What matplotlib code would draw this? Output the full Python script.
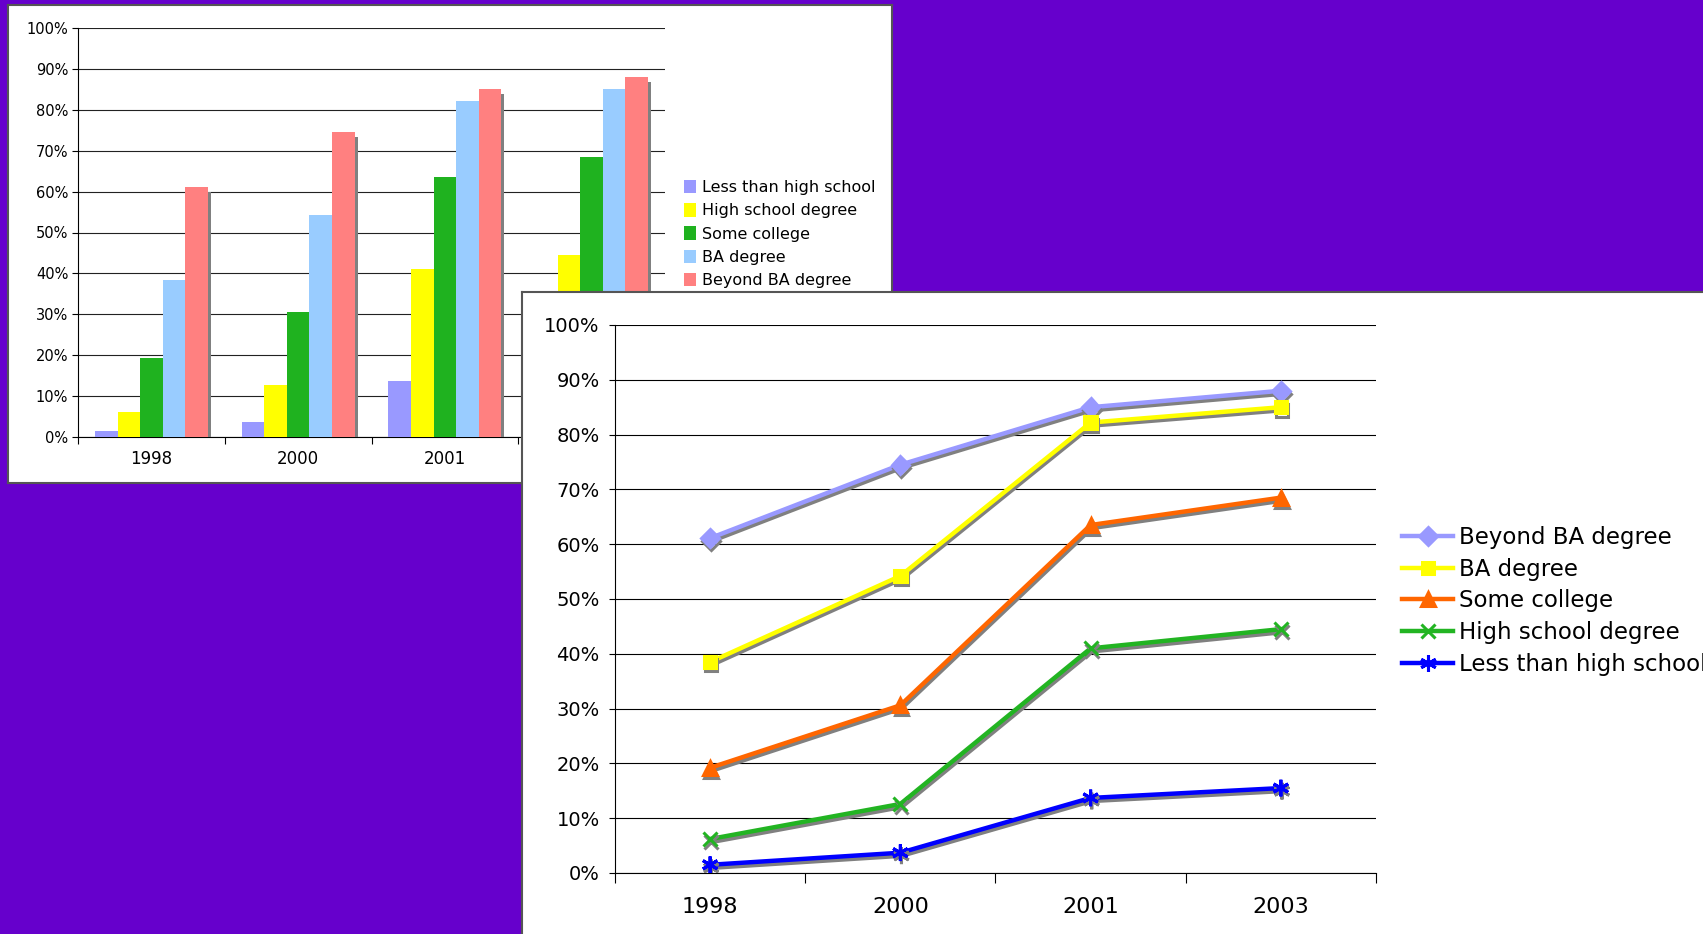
import matplotlib
matplotlib.use('Agg')
import matplotlib.pyplot as plt
import matplotlib.patheffects as pe
from matplotlib.patches import Patch
from matplotlib.lines import Line2D
import numpy as np

W, H = 1703, 934

# data (percent)
years = ['1998', '2000', '2001', '2003']
less_than_hs = [1.5, 3.7, 13.7, 15.5]
hs_degree = [6.2, 12.6, 41.0, 44.5]
some_college = [19.2, 30.6, 63.5, 68.5]
ba_degree = [38.5, 54.2, 82.2, 85.0]
beyond_ba = [61.1, 74.5, 85.0, 88.0]

bar_names = ['Less than high school', 'High school degree', 'Some college',
             'BA degree', 'Beyond BA degree']
bar_series = [less_than_hs, hs_degree, some_college, ba_degree, beyond_ba]
bar_colors = ['#9999FF', '#FFFF00', '#1FB21F', '#99CCFF', '#FF8080']

line_names = ['Beyond BA degree', 'BA degree', 'Some college',
              'High school degree', 'Less than high school']
line_series = [beyond_ba, ba_degree, some_college, hs_degree, less_than_hs]
line_colors = ['#9999FF', '#FFFF00', '#FF6600', '#22B422', '#0000FF']
line_markers = ['D', 's', '^', 'x', (6, 2, 0)]
marker_sizes = [9, 9, 10, 10, 12]

plt.rcParams['font.family'] = ['DejaVu Sans']


def box(x0, y0, x1, y1):
    # pixel rectangle (top-left origin) -> figure fraction
    return [x0 / W, 1 - y1 / H, (x1 - x0) / W, (y1 - y0) / H]


def pct(vals):
    return [f'{v}%' for v in vals]


fig = plt.figure(figsize=(W / 100, H / 100), dpi=100, facecolor='#6600CC')

# ---- first slide panel: clustered bars ----
panel1 = fig.add_axes(box(8, 5, 892, 483))
panel1.set_xticks([])
panel1.set_yticks([])
for s in panel1.spines.values():
    s.set_color('#555555')
    s.set_linewidth(1.5)

ax1 = fig.add_axes(box(78, 28, 665, 437))
ax1.patch.set_alpha(0)
x = np.arange(len(years))
w = 1 / 6.5
shadow = [pe.SimplePatchShadow(offset=(2.2, -3.5), shadow_rgbFace='#808080', alpha=1), pe.Normal()]
for i, (vals, c) in enumerate(zip(bar_series, bar_colors)):
    ax1.bar(x + (i - 2) * w, vals, w, color=c, path_effects=shadow, zorder=3)

ax1.set_xlim(-0.5, 3.5)
ax1.set_ylim(0, 100)
ax1.set_yticks(range(0, 101, 10))
ax1.set_yticklabels(pct(range(0, 101, 10)), fontsize=10.5)
ax1.yaxis.grid(True, color='#222222', lw=0.8)
ax1.set_axisbelow(True)
ax1.set_xticks(np.arange(-0.5, 4, 1))
ax1.set_xticklabels([])
ax1.set_xticks(x, minor=True)
ax1.set_xticklabels(years, minor=True, fontsize=12)
ax1.tick_params(axis='x', which='minor', length=0, pad=9)
ax1.tick_params(axis='x', which='major', length=5, direction='out')
ax1.tick_params(axis='y', length=4, pad=3)
ax1.spines['top'].set_visible(False)
ax1.spines['right'].set_visible(False)

bar_handles = [Patch(facecolor=c, edgecolor='none') for c in bar_colors]
fig.legend(bar_handles, bar_names, loc='center left',
           bbox_to_anchor=(676 / W, 1 - 234 / H), frameon=False,
           fontsize=11.5, handlelength=0.75, handleheight=0.9,
           handletextpad=0.35, labelspacing=0.5, borderpad=0)

# ---- second slide panel: lines ----
panel2 = fig.add_axes(box(522, 292, 1712, 945))
panel2.set_xticks([])
panel2.set_yticks([])
for s in panel2.spines.values():
    s.set_color('#555555')
    s.set_linewidth(1.5)

ax2 = fig.add_axes(box(615, 325, 1376, 873))
ax2.patch.set_alpha(0)
line_fx = [pe.SimpleLineShadow(offset=(0.8, -2.2), shadow_color='#808080', alpha=1), pe.Normal()]
for vals, c, m, ms in zip(line_series, line_colors, line_markers, marker_sizes):
    ax2.plot(x, vals, color=c, lw=3.2, marker=m, markersize=ms, mew=2.2,
             mfc=c, mec=c, path_effects=line_fx, zorder=3)

ax2.set_xlim(-0.5, 3.5)
ax2.set_ylim(0, 100)
ax2.set_yticks(range(0, 101, 10))
ax2.set_yticklabels(pct(range(0, 101, 10)), fontsize=14)
ax2.yaxis.grid(True, color='black', lw=0.8)
ax2.set_axisbelow(True)
ax2.set_xticks(np.arange(-0.5, 4, 1))
ax2.set_xticklabels([])
ax2.set_xticks(x, minor=True)
ax2.set_xticklabels(years, minor=True, fontsize=16)
ax2.tick_params(axis='x', which='minor', length=0, pad=17)
ax2.tick_params(axis='x', which='major', length=7, direction='out')
ax2.tick_params(axis='y', length=4, pad=7)
ax2.spines['top'].set_visible(False)
ax2.spines['right'].set_visible(False)

line_handles = [Line2D([0], [0], color=c, lw=3.2, marker=m, markersize=ms,
                       mew=2.2, mfc=c, mec=c)
                for c, m, ms in zip(line_colors, line_markers, marker_sizes)]
fig.legend(line_handles, line_names, loc='center left',
           bbox_to_anchor=(1391 / W, 1 - 601 / H), frameon=False,
           fontsize=16.5, handlelength=2.2, handletextpad=0.25,
           labelspacing=0.385, borderpad=0)

fig.savefig('out.png', dpi=100, facecolor=fig.get_facecolor())
